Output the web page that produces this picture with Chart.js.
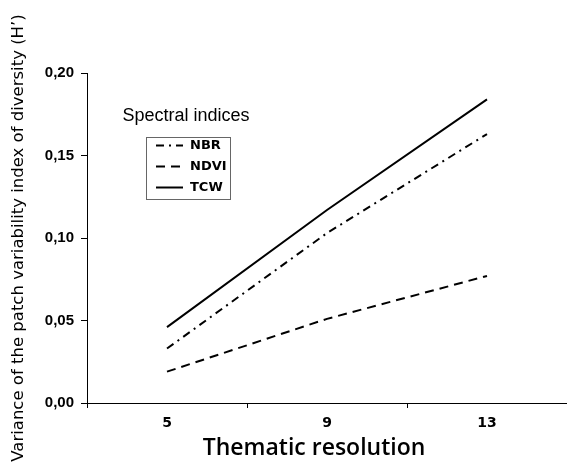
<!DOCTYPE html>
<html>
<head>
<meta charset="utf-8">
<script src="https://cdn.jsdelivr.net/npm/chart.js@4/dist/chart.umd.min.js"></script>
<style>
html,body{margin:0;padding:0;background:#fff;}
#wrap{width:567px;height:463px;}
</style>
</head>
<body>
<div id="wrap"><canvas id="c" width="567" height="463"></canvas></div>
<script>
const categories = ['5', '9', '13'];
const nbrValues = [0.033, 0.103, 0.163];
const ndviValues = [0.019, 0.051, 0.077];
const tcwValues = [0.046, 0.117, 0.184];
const yTicks = [0, 0.05, 0.10, 0.15, 0.20];
const seriesNames = ['NBR', 'NDVI', 'TCW'];
const legendTitle = 'Spectral indices';
const xTitle = 'Thematic resolution';
const yTitle = 'Variance of the patch variability index of diversity (H\u2019)';

const overlayPlugin = {
  id: 'overlay',
  afterDraw(chart) {
    const ctx = chart.ctx;
    ctx.save();
    ctx.fillStyle = '#000';
    // x axis title
    ctx.font = '600 23px "Open Sans", sans-serif';
    ctx.textAlign = 'center';
    ctx.textBaseline = 'alphabetic';
    ctx.fillText(xTitle, 314, 455);
    // legend
    ctx.font = '18px "Liberation Sans", Arial, sans-serif';
    ctx.textBaseline = 'middle';
    ctx.fillText(legendTitle, 186, 116);
    ctx.strokeStyle = '#666';
    ctx.lineWidth = 1;
    ctx.strokeRect(146.5, 137.5, 84, 62);
    chart.data.datasets.forEach((ds, i) => {
      const y = 145.5 + i * 21;
      ctx.beginPath();
      ctx.setLineDash(ds.borderDash || []);
      ctx.lineWidth = 2;
      ctx.strokeStyle = '#000';
      ctx.moveTo(156, y);
      ctx.lineTo(183, y);
      ctx.stroke();
      ctx.setLineDash([]);
      ctx.font = 'bold 13px "DejaVu Sans", sans-serif';
      ctx.textAlign = 'left';
      ctx.fillText(ds.label, 190, y);
    });
    ctx.restore();
  }
};

new Chart(document.getElementById('c'), {
  type: 'line',
  data: {
    labels: categories,
    datasets: [
      { label: seriesNames[0], data: nbrValues, borderColor: '#000', borderWidth: 2, borderDash: [8, 5, 2, 5], pointRadius: 0, fill: false, tension: 0 },
      { label: seriesNames[1], data: ndviValues, borderColor: '#000', borderWidth: 2, borderDash: [9, 6], pointRadius: 0, fill: false, tension: 0 },
      { label: seriesNames[2], data: tcwValues, borderColor: '#000', borderWidth: 2, pointRadius: 0, fill: false, tension: 0 }
    ]
  },
  options: {
    responsive: false,
    animation: false,
    devicePixelRatio: 1,
    layout: { padding: { top: 73, left: 0, right: 0, bottom: 0 } },
    plugins: { legend: { display: false }, tooltip: { enabled: false } },
    scales: {
      x: {
        type: 'category',
        offset: true,
        grid: { display: true, offset: true, drawOnChartArea: false, drawTicks: true, tickLength: 5, color: '#000' },
        border: { display: true, color: '#000', width: 1 },
        ticks: { color: '#000', padding: 7, font: { family: '"DejaVu Sans", sans-serif', size: 14, weight: 'bold' } },
        title: { display: false },
        afterFit(scale) { scale.height = 60; }
      },
      y: {
        min: 0,
        max: 0.2,
        afterBuildTicks(scale) { scale.ticks = yTicks.map(v => ({ value: v })); },
        grid: { display: true, drawOnChartArea: false, drawTicks: true, tickLength: 6, color: '#000' },
        border: { display: true, color: '#000', width: 1 },
        ticks: {
          color: '#000', padding: 7,
          font: { family: '"Liberation Sans", Arial, sans-serif', size: 15, weight: 'bold' },
          callback: v => v.toFixed(2).replace('.', ',')
        },
        title: { display: true, text: yTitle, color: '#000', font: { family: '"DejaVu Sans", sans-serif', size: 16.5 }, padding: { top: 9, bottom: 0 } },
        afterFit(scale) { scale.width = 87; }
      }
    }
  },
  plugins: [overlayPlugin]
});
</script>
</body>
</html>
